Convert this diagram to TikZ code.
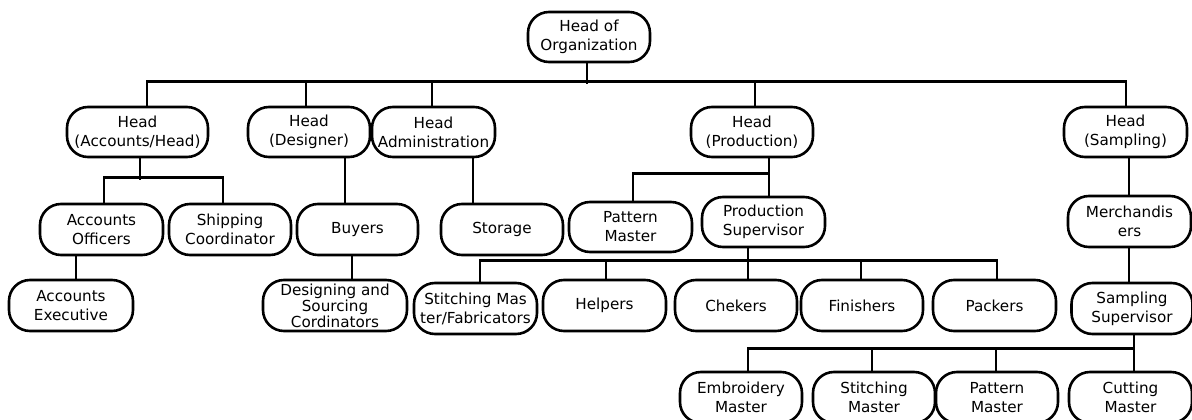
\documentclass[tikz,border=0pt]{standalone}
\usepackage{fontspec}
\setmainfont{DejaVu Sans}
\begin{document}
\begin{tikzpicture}[x=1pt,y=-1pt,
  box/.style={draw,line width=2.6pt,rounded corners=21pt,align=center,
    inner sep=0pt,minimum height=50pt,minimum width=122pt,
    font=\fontsize{15.2}{19}\selectfont},
  conn/.style={line width=2.6pt}]
\useasboundingbox (0,0) rectangle (1192,420);
\clip (0,0) rectangle (1192,420);
% level 1
\node[box] (org) at (589,37) {Head of\\Organization};
% level 2
\node[box,minimum width=141pt] (acc) at (137.5,132) {Head\\(Accounts/Head)};
\node[box] (des) at (309,132) {Head\\(Designer)};
\node[box,minimum width=123pt] (adm) at (433.5,132) {Head\\Administration};
\node[box] (pro) at (752,132) {Head\\(Production)};
\node[box,minimum width=123pt] (sam) at (1125.5,132) {Head\\(Sampling)};
% level 3
\node[box,minimum height=51pt,minimum width=123pt] (aof) at (101.5,229.5) {Accounts\\Officers};
\node[box,minimum height=51pt] (shp) at (230,229.5) {Shipping\\Coordinator};
\node[box,minimum height=51pt,minimum width=121pt] (buy) at (357.5,229.5) {Buyers};
\node[box,minimum height=51pt] (sto) at (502,229.5) {Storage};
\node[box,minimum width=123pt] (pat) at (630.5,227) {Pattern\\Master};
\node[box,minimum width=123pt] (psu) at (763.5,222) {Production\\Supervisor};
\node[box,minimum height=51pt,minimum width=123pt] (mer) at (1129.5,221.5) {Merchandis\\ers};
% level 4
\node[box,minimum height=51pt,minimum width=124pt] (aex) at (71,305.5) {Accounts\\Executive};
\node[box,minimum height=51pt,minimum width=144pt,font=\fontsize{15.2}{16}\selectfont] (dsc) at (335,305.5) {Designing and\\Sourcing\\Cordinators};
\node[box,minimum height=51pt,minimum width=123pt] (stf) at (475.5,308.5) {Stitching Mas\\ter/Fabricators};
\node[box,minimum height=51pt,minimum width=123pt] (hel) at (604.5,305.5) {Helpers};
\node[box,minimum height=51pt] (che) at (736,305.5) {Chekers};
\node[box,minimum height=51pt] (fin) at (862,305.5) {Finishers};
\node[box,minimum height=51pt,minimum width=123pt] (pac) at (994.5,305.5) {Packers};
\node[box,minimum height=51pt,minimum width=121pt] (ssu) at (1132,308.5) {Sampling\\Supervisor};
% level 5
\node[box,minimum height=51pt] (emb) at (741,397.5) {Embroidery\\Master};
\node[box,minimum height=51pt] (stm) at (874,397.5) {Stitching\\Master};
\node[box,minimum height=51pt] (ptm) at (997,397.5) {Pattern\\Master};
\node[box,minimum height=51pt,minimum width=123pt] (cut) at (1130.5,397.5) {Cutting\\Master};
% connectors: top
\draw[conn] ([xshift=-2pt]org.south) -- ++(0,21);
\draw[conn] ([xshift=9.5pt]acc.north) -- ++(0,-24) -| ([xshift=0.5pt]sam.north);
\draw[conn] ([xshift=-3pt]des.north) -- ++(0,-24);
\draw[conn] ([xshift=-1.5pt]adm.north) -- ++(0,-24);
\draw[conn] ([xshift=3pt]pro.north) -- ++(0,-24);
% accounts
\draw[conn] ([xshift=2.5pt]acc.south) -- ++(0,22);
\draw[conn] ([xshift=2.5pt]aof.north) -- ++(0,-25) -| ([xshift=-7pt]shp.north);
\draw[conn] ([xshift=-25.5pt]aof.south) -- ([xshift=5pt]aex.north);
% designer / admin
\draw[conn] ([xshift=36pt]des.south) -- ([xshift=-12.5pt]buy.north);
\draw[conn] ([xshift=-5.5pt]buy.south) -- ([xshift=17pt]dsc.north);
\draw[conn] ([xshift=39.5pt]adm.south) -- ([xshift=-29pt]sto.north);
% production
\draw[conn] ([xshift=17pt]pro.south) -- ++(0,18);
\draw[conn] ([xshift=2.5pt]pat.north) -- ++(0,-27) -| ([xshift=5.5pt]psu.north);
\draw[conn] ([xshift=-15.5pt]psu.south) -- ([xshift=12pt]che.north);
\draw[conn] ([xshift=4.5pt]stf.north) -- ++(0,-21) -| ([xshift=2.5pt]pac.north);
\draw[conn] ([xshift=1.5pt]hel.north) -- ++(0,-18);
\draw[conn] ([xshift=-1pt]fin.north) -- ++(0,-18);
% sampling
\draw[conn] ([xshift=3.5pt]sam.south) -- ([xshift=-0.5pt]mer.north);
\draw[conn] ([xshift=-0.5pt]mer.south) -- ([xshift=-3pt]ssu.north);
\draw[conn] ([xshift=2pt]ssu.south) -- ([xshift=3.5pt]cut.north);
\draw[conn] ([xshift=7pt]emb.north) -- ++(0,-22) -| ([xshift=3.5pt]cut.north);
\draw[conn] ([xshift=-2pt]stm.north) -- ++(0,-22);
\draw[conn] ([xshift=-1pt]ptm.north) -- ++(0,-22);
\end{tikzpicture}
\end{document}
